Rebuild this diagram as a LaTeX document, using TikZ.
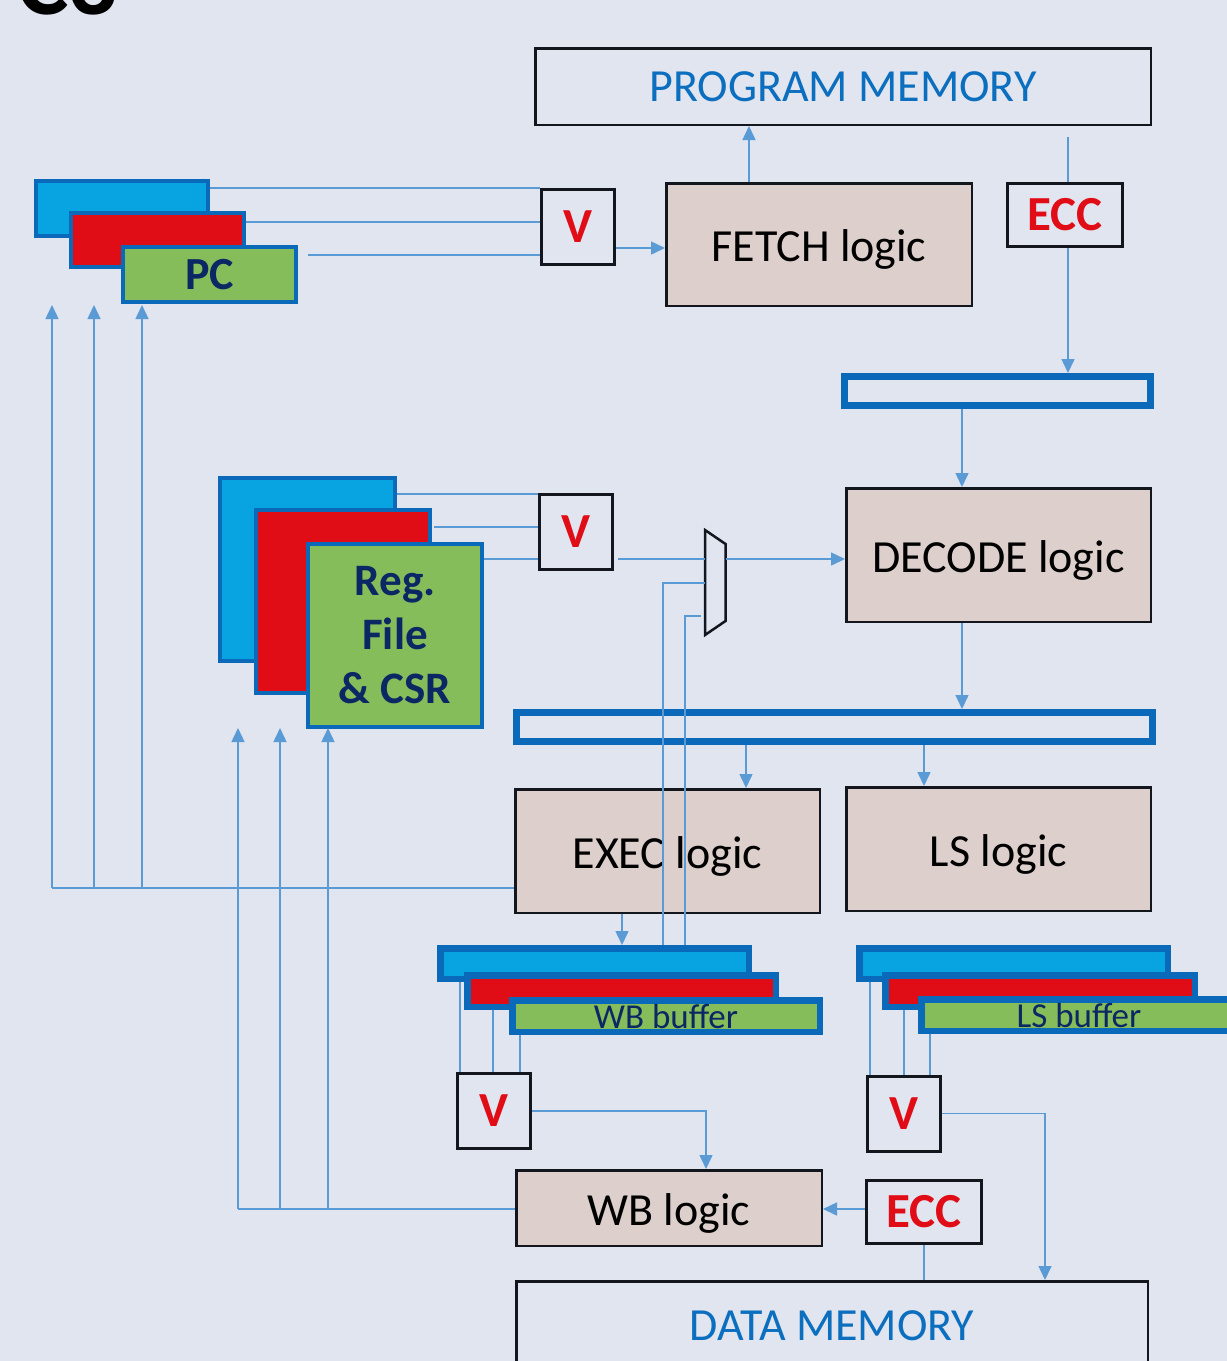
\documentclass[tikz,border=0pt]{standalone}
\usepackage{fontspec}
\setmainfont{Carlito}
\usetikzlibrary{arrows.meta}
\definecolor{bg}{RGB}{224,229,240}
\definecolor{connc}{RGB}{91,155,213}
\definecolor{boxline}{RGB}{20,22,30}
\definecolor{logicfill}{RGB}{221,207,203}
\definecolor{memblue}{RGB}{12,110,190}
\definecolor{vred}{RGB}{224,12,22}
\definecolor{stkline}{RGB}{10,106,185}
\definecolor{stkblue}{RGB}{8,163,225}
\definecolor{stkred}{RGB}{224,12,22}
\definecolor{stkgreen}{RGB}{132,189,90}
\definecolor{navy}{RGB}{11,40,100}
\begin{document}
\begin{tikzpicture}[x=1pt,y=-1pt,
  conn/.style={draw=connc, line width=1.5pt},
  arr/.style={conn, -{Triangle[length=14pt,width=13pt]}},
  thickconn/.style={draw=connc, line width=2.5pt},
  logic/.style={draw=boxline, line width=2.5pt, fill=logicfill, inner sep=0pt,
    font=\fontsize{46}{55}\selectfont, text=black, text height=34pt, text depth=0pt},
  membox/.style={draw=boxline, line width=2.5pt, inner sep=0pt, text=memblue,
    font=\fontsize{46}{55}\selectfont},
  vbox/.style={draw=boxline, line width=3pt, inner sep=0pt, text=vred,
    font=\bfseries\fontsize{49}{58}\selectfont, minimum width=73pt, minimum height=75pt},
  eccbox/.style={draw=boxline, line width=3pt, inner sep=0pt, text=vred,
    font=\bfseries\fontsize{49}{58}\selectfont, minimum width=115pt, minimum height=63pt},
  stk/.style={draw=stkline, line width=4pt, inner sep=0pt},
  buf/.style={draw=stkline, line width=6.5pt, inner sep=0pt},
  pipereg/.style={draw=stkline, line width=7pt, inner sep=0pt},
]
\useasboundingbox (0,0) rectangle (1227,1361);
\clip (0,0) rectangle (1227,1361);
\fill[bg] (0,0) rectangle (1227,1361);

% cropped title
\node[anchor=base west, inner sep=0pt, font=\bfseries\fontsize{97}{100}\selectfont] (title) at (17,14) {C3};

% memories
\node[membox, minimum width=615.5pt, minimum height=76.5pt] (pm) at (843,86.5) {PROGRAM MEMORY};
\node[membox, minimum width=631.5pt, minimum height=89.5pt] (dm) at (832,1326) {DATA MEMORY};

% logic blocks
\node[logic, minimum width=305.5pt, minimum height=122.5pt] (fetch) at (819,244.5) {FETCH logic};
\node[logic, minimum width=304.5pt, minimum height=133.5pt] (decode) at (998.5,555) {DECODE logic};
\node[logic, minimum width=304.5pt, minimum height=123.5pt] (exec) at (667.5,851) {EXEC logic};
\node[logic, minimum width=304.5pt, minimum height=123.5pt] (ls) at (998.5,849) {LS logic};
\node[logic, minimum width=305.5pt, minimum height=75.5pt] (wbl) at (669,1208) {WB logic};

% ECC
\node[eccbox] (ecc1) at (1065,215) {ECC};
\node[eccbox] (ecc2) at (924,1211.5) {ECC};

% pipeline registers
\node[pipereg, minimum width=306pt, minimum height=29pt] (reg1) at (997.5,391) {};
\node[pipereg, minimum width=636pt, minimum height=29pt] (reg2) at (834.5,727) {};

% voters
\node[vbox] (v1) at (577.5,226.5) {V};
\node[vbox] (v2) at (576,531.5) {V};
\node[vbox] (v3) at (493.5,1111) {V};
\node[vbox] (v4) at (903.5,1113.5) {V};

% PC stack
\node[stk, fill=stkblue, minimum width=172pt, minimum height=55pt] (pcB) at (122,208.5) {};
\node[stk, fill=stkred, minimum width=173pt, minimum height=54pt] (pcR) at (157.5,240) {};
\node[stk, fill=stkgreen, minimum width=173pt, minimum height=55pt, text=navy,
  font=\bfseries\fontsize{46}{53}\selectfont] (pcG) at (209.5,274.5) {PC};

% register file stack
\node[stk, fill=stkblue, minimum width=175pt, minimum height=183pt] (rfB) at (307.5,569.5) {};
\node[stk, fill=stkred, minimum width=174pt, minimum height=183pt] (rfR) at (343,601.5) {};
\node[stk, fill=stkgreen, minimum width=174pt, minimum height=183pt, text=navy, align=center,
  font=\bfseries\fontsize{45}{54}\selectfont] (rfG) at (395,635.5) {Reg.\\File\\\& CSR};

% WB buffer stack
\node[buf, fill=stkblue, minimum width=308.5pt, minimum height=30.5pt] (wbB) at (594.5,963.5) {};
\node[buf, fill=stkred, minimum width=308.5pt, minimum height=31.5pt] (wbR) at (621.5,991) {};
\node[buf, fill=stkgreen, minimum width=307.5pt, minimum height=31.5pt, text=navy,
  font=\fontsize{35}{40}\selectfont] (wbG) at (666,1016) {WB buffer};

% LS buffer stack
\node[buf, fill=stkblue, minimum width=308.5pt, minimum height=30.5pt] (lsB) at (1013.5,963.5) {};
\node[buf, fill=stkred, minimum width=309.5pt, minimum height=31.5pt] (lsR) at (1040,991) {};
\node[buf, fill=stkgreen, minimum width=315.5pt, minimum height=31.5pt, text=navy,
  font=\fontsize{35}{40}\selectfont] (lsG) at (1079,1015) {LS buffer};

% multiplexer
\coordinate (muxTL) at (705,530);
\coordinate (muxTR) at (725.5,544);
\coordinate (muxBR) at (725.5,621);
\coordinate (muxBL) at (705,635);
\draw[boxline, line width=2.5pt, line join=miter] (muxTL) -- (muxTR) -- (muxBR) -- (muxBL) -- cycle;
\coordinate (muxin) at (705,559);
\coordinate (muxout) at (725.5,559);
\coordinate (muxA) at (705,583);
\coordinate (muxB) at (700.5,616);

% helper columns / rows
\coordinate (X749) at (749,0);
\coordinate (X962) at (962,0);
\coordinate (X746) at (746,0);
\coordinate (X924) at (924,0);
\coordinate (X622) at (622,0);
\coordinate (X663) at (663,0);
\coordinate (X685) at (685,0);
\coordinate (X706) at (706,0);
\coordinate (X1045) at (1045,0);
\coordinate (X460) at (460,0);
\coordinate (X493) at (493,0);
\coordinate (X520) at (520,0);
\coordinate (X870) at (870,0);
\coordinate (X904) at (904,0);
\coordinate (X930) at (930,0);
\coordinate (Y188) at (0,188);
\coordinate (Y222) at (0,222);
\coordinate (Y255) at (0,255);
\coordinate (Y248) at (0,248);
\coordinate (Y494) at (0,494);
\coordinate (Y527) at (0,527);
\coordinate (Y1209) at (0,1209);
\coordinate (pmout) at (1068,137);
\coordinate (fb1) at (52,888);
\coordinate (pa1) at (52,305);
\coordinate (pa2) at (94,305);
\coordinate (pa3) at (142,305);
\coordinate (fb2) at (238,1209);
\coordinate (ra1) at (238,728);
\coordinate (ra2) at (280,728);
\coordinate (ra3) at (328,728);

% fetch <-> program memory
\draw[arr] (fetch.north -| X749) -- (pm.south -| X749);
\draw[conn] (pmout) -- (ecc1.north -| pmout);
\draw[arr] (ecc1.south -| pmout) -- (reg1.north -| pmout);
\draw[arr] (reg1.south -| X962) -- (decode.north -| X962);
\draw[arr] (decode.south -| X962) -- (reg2.north -| X962);
\draw[arr] (reg2.south -| X746) -- (exec.north -| X746);
\draw[arr] (reg2.south -| X924) -- (ls.north -| X924);
\draw[arr] (exec.south -| X622) -- (wbB.north -| X622);

% PC stack -> voter -> fetch
\draw[conn] (pcB.east |- Y188) -- (v1.west |- Y188);
\draw[conn] (pcR.east |- Y222) -- (v1.west |- Y222);
\draw[conn] ([xshift=10pt]pcG.east |- Y255) -- (v1.west |- Y255);
\draw[arr] (v1.east |- Y248) -- (fetch.west |- Y248);

% register file -> voter -> mux -> decode
\draw[conn] (rfB.east |- Y494) -- (v2.west |- Y494);
\draw[conn] ([xshift=2pt]rfR.east |- Y527) -- (v2.west |- Y527);
\draw[conn] (rfG.east |- muxin) -- (v2.west |- muxin);
\draw[conn] ([xshift=4pt]v2.east |- muxin) -- (muxin);
\draw[arr] (muxout) -- (decode.west |- muxout);
\draw[conn] (wbB.north -| X663) |- (muxA);
\draw[conn] (wbB.north -| X685) |- (muxB);

% EXEC feedback to PC
\draw[conn] (exec.west |- fb1) -- (fb1);
\draw[arr] (fb1) -- (pa1);
\draw[arr] (pa2 |- fb1) -- (pa2);
\draw[arr] (pa3 |- fb1) -- (pa3);

% WB feedback to register file
\draw[conn] (wbl.west |- fb2) -- (fb2);
\draw[arr] (fb2) -- (ra1);
\draw[arr] (ra2 |- fb2) -- (ra2);
\draw[arr] (ra3 |- fb2) -- (ra3);

% WB buffer -> voter -> WB logic
\draw[thickconn] (wbB.south -| X460) -- (v3.north -| X460);
\draw[thickconn] (wbR.south -| X493) -- (v3.north -| X493);
\draw[thickconn] (wbG.south -| X520) -- (v3.north -| X520);
\draw[arr] (v3.east) -| (wbl.north -| X706);

% LS buffer -> voter -> data memory
\draw[thickconn] (lsB.south -| X870) -- (v4.north -| X870);
\draw[thickconn] (lsR.south -| X904) -- (v4.north -| X904);
\draw[thickconn] (lsG.south -| X930) -- (v4.north -| X930);
\draw[arr] (v4.east) -| (dm.north -| X1045);

% data memory -> ECC -> WB logic
\draw[conn] (ecc2.south) -- (dm.north -| ecc2.south);
\draw[arr] (ecc2.west |- Y1209) -- (wbl.east |- Y1209);
\end{tikzpicture}
\end{document}
